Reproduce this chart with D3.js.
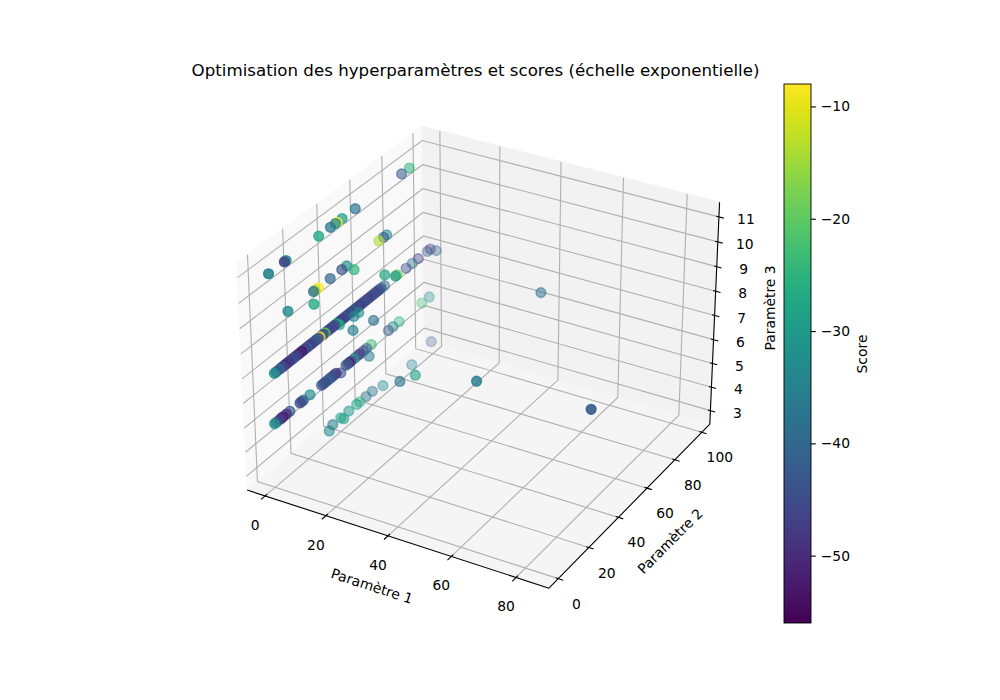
<!DOCTYPE html>
<html>
<head>
<meta charset="utf-8">
<script src="https://d3js.org/d3.v7.min.js"></script>
<style>
body { margin: 0; background: #fff; }
text { font-family: "DejaVu Sans", sans-serif; font-size: 13.89px; fill: #000; }
</style>
</head>
<body>
<div id="chart"></div>
<script>
// values, one line per group of points
var param1 = [
    0,0,0,0,0,0,0,0,0,0,0,
    0,0,0,0,0,0,0,0,0,0,4,3,12,15,15,
    0,0,0,0,0,0,0,0,0,0,0,0,0,0,0,0,0,0,0,0,0,0,0,0,0,0,0,0,0,0,0,0,0,0,0,0,0,0,0,0,
    0,0,0,0,0,2,1,2,2,6,8,84,50,41,
    0,0,0,0,0,0,0,0,0,0,0,0,0,0,1,0,0,0,0,0,0,0,3,0,0,0,0,0,20,18,
    1,0,0,1,0,0,0,0,0,1,2,0,
    0,0,0,0,0,0,0,0,0,0,0,0,0,0,0,0,0,0,0,0,0,0,0,0,0,0,
    0,0,0,0,0,0,0,0,0,0,0
];
var param2 = [
    1,11,10,30,37,40,41,44,52,81,86,
    11,26,29,27,36,43,46,66,69,71,19,45,47,48,49,
    2,5,7,9,11,13,14,16,18,19,21,22,25,27,28,29,31,32,34,36,38,39,41,42,44,45,47,49,50,52,53,55,56,58,60,61,63,64,66,69,
    83,87,91,97,99,99,39,46,49,38,47,33,30,91,
    1,4,6,8,10,16,17,22,29,30,32,34,36,38,39,44,46,49,52,55,57,60,53,71,74,78,93,98,50,44,
    31,35,40,40,45,50,52,56,60,65,82,99,
    3,6,8,10,12,15,17,20,23,24,26,30,33,35,37,40,43,46,48,51,54,57,59,62,65,67,
    2,5,18,31,33,35,37,45,47,50,53
];
var param3 = [
    11,11,11,11,11,11,11,11,11,11,11,
    9,9,9,9,9,9,9,9,9,9,9,9,9,9,9,
    7,7,7,7,7,7,7,7,7,7,7,7,7,7,7,7,7,7,7,7,7,7,7,7,7,7,7,7,7,7,7,7,7,7,7,7,7,7,7,7,
    7,7,7,7,7,7,7,7,7,7,7,7,7,7,
    5,5,5,5,5,5,5,5,5,5,5,5,5,5,5,5,5,5,5,5,5,5,5,5,5,5,5,5,5,5,
    3,3,3,3,3,3,3,3,3,3,3,3,
    7,7,7,7,7,7,7,7,7,7,7,7,7,7,7,7,7,7,7,7,7,7,7,7,7,7,
    5,5,5,5,5,5,5,5,5,5,5
];
var scores = [
    -35,-32,-46,-27,-37,-33,-8,-30,-38,-43,-25,
    -33,-38,-8,-14,-40,-44,-33,-14,-43,-33,-27,-25,-27,-30,-18,
    -32,-40,-45,-48,-46,-45,-47,-52,-54,-46,-42,-46,-44,-42,-46,-8,-45,-20,-47,-45,-44,-28,-48,-46,-44,-47,-45,-40,-46,-45,-48,-44,-46,-46,-44,-45,-47,-44,-42,-38,
    -45,-38,-48,-42,-50,-40,-27,-33,-33,-35,-38,-42,-36,-38,
    -31,-47,-53,-49,-42,-46,-42,-33,-44,-44,-40,-42,-44,-50,-44,-44,-53,-30,-48,-46,-42,-23,-36,-43,-35,-25,-23,-32,-29,-38,
    -33,-36,-28,-29,-31,-29,-25,-38,-38,-32,-35,-43,
    -44,-46,-50,-48,-45,-47,-50,-46,-48,-44,-43,-44,-46,-45,-47,-43,-46,-44,-47,-45,-46,-44,-47,-43,-46,-42,
    -44,-50,-40,-46,-42,-46,-48,-42,-50,-44,-46
];
var ticks1 = [0, 20, 40, 60, 80];
var ticks2 = [0, 20, 40, 60, 80, 100];
var ticks3 = [3, 4, 5, 6, 7, 8, 9, 10, 11];
var scoreTicks = [-10, -20, -30, -40, -50];
var limits1 = [-6, 90], limits2 = [-6, 106], limits3 = [2.417, 11.583];
var scoreDomain = [-56, -8];

var width = 1000, height = 700;
var svg = d3.select("#chart").append("svg")
    .attr("width", width)
    .attr("height", height)
    .style("display", "block");

// same camera as a default mplot3d view: elev 30, azim -60, dist 10
var boxX = d3.scaleLinear().domain(limits1).range([-0.5714, 0.5714]);
var boxY = d3.scaleLinear().domain(limits2).range([-0.5714, 0.5714]);
var boxZ = d3.scaleLinear().domain(limits3).range([-0.4286, 0.4286]);
var screenX = d3.scaleLinear().domain([-0.1, 0.1]).range([482.6 - 302.6, 482.6 + 302.6]);
var screenY = d3.scaleLinear().domain([-0.1, 0.1]).range([346.6 + 302.6, 346.6 - 302.6]);

function depth(x, y, z) {
    return 0.433013 * boxX(x) - 0.75 * boxY(y) + 0.5 * boxZ(z);
}
function project(x, y, z) {
    var rx = boxX(x), ry = boxY(y), rz = boxZ(z);
    var d = 10 - depth(x, y, z);
    var cx = 0.866025 * rx + 0.5 * ry;
    var cy = -0.25 * rx + 0.433013 * ry + 0.866025 * rz;
    return [screenX(cx / d), screenY(cy / d)];
}

var line3d = d3.line();
function path3d(corners, closed) {
    return line3d(corners.map(function (c) { return project(c[0], c[1], c[2]); })) + (closed ? "Z" : "");
}

var x0 = limits1[0], x1 = limits1[1], y0 = limits2[0], y1 = limits2[1], z0 = limits3[0], z1 = limits3[1];

// panes
var panes = [
    { fill: "#f9f9f9", c: [[x0,y0,z0],[x0,y0,z1],[x0,y1,z1],[x0,y1,z0]] },
    { fill: "#f2f2f2", c: [[x0,y1,z0],[x0,y1,z1],[x1,y1,z1],[x1,y1,z0]] },
    { fill: "#f5f5f5", c: [[x0,y0,z0],[x1,y0,z0],[x1,y1,z0],[x0,y1,z0]] }
];
svg.selectAll("path.pane")
    .data(panes)
    .enter()
    .append("path")
    .attr("class", "pane")
    .attr("d", function (d) { return path3d(d.c, true); })
    .attr("fill", function (d) { return d.fill; })
    .attr("stroke", function (d) { return d.fill; });

// grid
var grid = [];
ticks1.forEach(function (t) { grid.push([[t,y0,z0],[t,y1,z0],[t,y1,z1]]); });
ticks2.forEach(function (t) { grid.push([[x1,t,z0],[x0,t,z0],[x0,t,z1]]); });
ticks3.forEach(function (t) { grid.push([[x0,y0,t],[x0,y1,t],[x1,y1,t]]); });
svg.selectAll("path.grid")
    .data(grid)
    .enter()
    .append("path")
    .attr("class", "grid")
    .attr("d", function (d) { return path3d(d, false); })
    .attr("fill", "none")
    .attr("stroke", "#b0b0b0")
    .attr("stroke-width", 1.11);

// axis lines and ticks
var axisLines = [
    [[x0,y0,z0],[x1,y0,z0]],
    [[x1,y0,z0],[x1,y1,z0]],
    [[x1,y1,z0],[x1,y1,z1]]
];
ticks1.forEach(function (t) { axisLines.push([[t,y0+1.2,z0],[t,y0-2.4,z0]]); });
ticks2.forEach(function (t) { axisLines.push([[x1-0.8,t,z0],[x1+1.5,t,z0]]); });
ticks3.forEach(function (t) { axisLines.push([[x1-0.8,y1,t],[x1+1.5,y1,t]]); });
svg.selectAll("path.axis")
    .data(axisLines)
    .enter()
    .append("path")
    .attr("class", "axis")
    .attr("d", function (d) { return path3d(d, false); })
    .attr("fill", "none")
    .attr("stroke", "#000")
    .attr("stroke-width", 1.11);

// tick labels
function tickLabels(values, pos, dx, dy) {
    svg.selectAll(null)
        .data(values)
        .enter()
        .append("text")
        .attr("x", function (d) { return pos(d)[0] + dx; })
        .attr("y", function (d) { return pos(d)[1] + dy; })
        .attr("text-anchor", "middle")
        .attr("dominant-baseline", "central")
        .text(function (d) { return d; });
}
tickLabels(ticks1, function (t) { return project(t, y0, z0); }, -10, 29);
tickLabels(ticks2, function (t) { return project(x1, t, z0); }, 18, 25);
tickLabels(ticks3, function (t) { return project(x1, y1, t); }, 27, 2);

// points, far ones first and faded like depthshade
var points = param1.map(function (p, i) {
    return { x: p, y: param2[i], z: param3[i], s: scores[i], d: depth(p, param2[i], param3[i]) };
}).sort(function (a, b) { return a.d - b.d; });

var color = d3.scaleSequential(d3.interpolateViridis).domain(scoreDomain);
var shade = d3.scaleLinear().domain(d3.extent(points, function (p) { return p.d; })).range([0.3, 1]);

svg.selectAll("circle.point")
    .data(points)
    .enter()
    .append("circle")
    .attr("class", "point")
    .attr("cx", function (d) { return project(d.x, d.y, d.z)[0]; })
    .attr("cy", function (d) { return project(d.x, d.y, d.z)[1]; })
    .attr("r", 4.91)
    .attr("fill", function (d) { return color(d.s); })
    .attr("fill-opacity", function (d) { return 0.9 * shade(d.d); })
    .attr("stroke", function (d) { return color(d.s); })
    .attr("stroke-opacity", function (d) { return 0.9 * shade(d.d); })
    .attr("stroke-width", 1.39);

// title and axis labels
svg.append("text")
    .attr("x", 475.5).attr("y", 76)
    .attr("text-anchor", "middle")
    .style("font-size", "16.67px")
    .text("Optimisation des hyperparamètres et scores (échelle exponentielle)");

function axisLabel(txt, x, y, angle) {
    svg.append("text")
        .attr("transform", "translate(" + x + "," + y + ") rotate(" + angle + ")")
        .attr("text-anchor", "middle")
        .attr("dominant-baseline", "central")
        .text(txt);
}
axisLabel("Paramètre 1", 372, 586, 18);
axisLabel("Paramètre 2", 670, 541, -45);
axisLabel("Paramètre 3", 770, 308, -90);
axisLabel("Score", 862, 354, -90);

// colorbar
var barLeft = 784, barWidth = 27, barTop = 84, barBottom = 623;
var barScale = d3.scaleLinear().domain(scoreDomain).range([barBottom, barTop]);
var defs = svg.append("defs");
var gradient = defs.append("linearGradient")
    .attr("id", "viridis")
    .attr("x1", 0).attr("y1", 1).attr("x2", 0).attr("y2", 0);
gradient.selectAll("stop")
    .data(d3.range(0, 1.001, 0.05))
    .enter()
    .append("stop")
    .attr("offset", function (d) { return d; })
    .attr("stop-color", function (d) { return d3.interpolateViridis(d); });
svg.append("rect")
    .attr("x", barLeft).attr("y", barTop)
    .attr("width", barWidth).attr("height", barBottom - barTop)
    .attr("fill", "url(#viridis)")
    .attr("stroke", "#000")
    .attr("stroke-width", 0.9);

var barAxis = d3.axisRight(barScale)
    .tickValues(scoreTicks)
    .tickSize(4.86)
    .tickPadding(4.86)
    .tickFormat(function (d) { return "\u2212" + Math.abs(d); });
var barG = svg.append("g")
    .attr("transform", "translate(" + (barLeft + barWidth) + ",0)")
    .call(barAxis);
barG.select(".domain").remove();
barG.selectAll("line").attr("stroke-width", 1.11);
barG.selectAll("text").style("font-family", "DejaVu Sans").style("font-size", "13.89px");
</script>
</body>
</html>
